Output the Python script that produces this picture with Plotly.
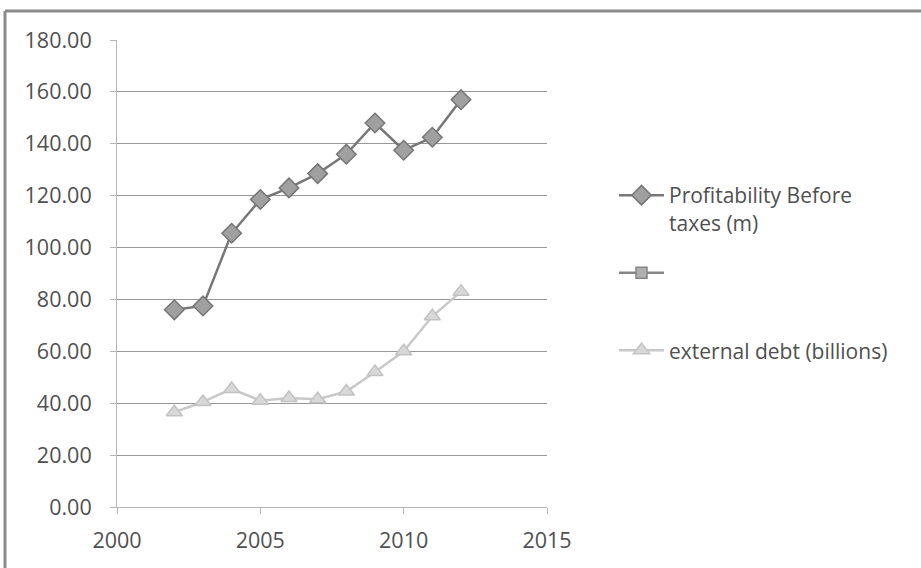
import plotly.graph_objects as go

years = [2002, 2003, 2004, 2005, 2006, 2007, 2008, 2009, 2010, 2011, 2012]
profit = [76.0, 77.5, 105.5, 118.5, 123.0, 128.5, 136.0, 148.0, 137.5, 142.5, 157.0]
debt = [36.5, 40.5, 45.5, 41.0, 42.0, 41.5, 44.5, 52.0, 60.0, 73.5, 83.0]
names = ["Profitability Before<br>taxes (m)", " <br> ", "external debt (billions)"]

FONT = "'Open Sans', Lato, sans-serif"

fig = go.Figure()
fig.add_trace(go.Scatter(
    x=years, y=profit, mode="lines+markers", name=names[0], legendgroup="a",
    line=dict(color="#777777", width=2.5),
    marker=dict(symbol="diamond", size=15, color="#a0a0a0", line=dict(color="#767676", width=1.5)),
))
fig.add_trace(go.Scatter(
    x=[None], y=[None], mode="lines+markers", name=names[1], legendgroup="b",
    line=dict(color="#858585", width=2.5),
    marker=dict(symbol="square", size=11, color="#b0b0b0", line=dict(color="#858585", width=1.5)),
))
fig.add_trace(go.Scatter(
    x=years, y=debt, mode="lines+markers", name=names[2], legendgroup="c",
    line=dict(color="#c8c8c8", width=2.5),
    marker=dict(symbol="triangle-up", size=14, color="#d8d8d8", line=dict(color="#c2c2c2", width=1.5)),
))

L, R, T, B = 117, 374, 40, 61
W, H = 921, 568
pw, ph = W - L - R, H - T - B
def px(x):
    return (x - L) / pw
def py(y):
    return 1 - (y - T) / ph

fig.update_layout(
    width=W, height=H,
    margin=dict(l=L, r=R, t=T, b=B, pad=0),
    paper_bgcolor="white", plot_bgcolor="white",
    font=dict(family=FONT, size=21, color="#505050"),
    showlegend=True,
    legend=dict(
        x=px(614), y=py(175), xanchor="left", yanchor="top",
        font=dict(family=FONT, size=21, color="#505050"),
        tracegroupgap=20, valign="top", itemwidth=45,
        bgcolor="rgba(0,0,0,0)",
    ),
    xaxis=dict(
        range=[2000, 2015], dtick=5, tick0=2000,
        showgrid=False, showline=True, linecolor="#b5b5b5", linewidth=1,
        ticks="outside", ticklen=6, tickcolor="#b5b5b5",
        tickfont=dict(family=FONT, size=21.5, color="#505050"),
        ticklabelstandoff=8, zeroline=False,
    ),
    yaxis=dict(
        range=[0, 180], dtick=20, tick0=0, tickformat=".2f",
        showgrid=True, gridcolor="#979797", gridwidth=1,
        showline=True, linecolor="#b5b5b5", linewidth=1,
        ticks="outside", ticklen=6, tickcolor="#b5b5b5",
        tickfont=dict(family=FONT, size=21.5, color="#505050"),
        ticklabelstandoff=14, zeroline=False,
    ),
    shapes=[
        dict(type="line", xref="paper", yref="paper", x0=px(5), x1=px(921), y0=py(11), y1=py(11),
             line=dict(color="#8a8a8a", width=3)),
        dict(type="line", xref="paper", yref="paper", x0=px(5), x1=px(5), y0=py(11), y1=py(568),
             line=dict(color="#8a8a8a", width=3)),
    ],
)

fig.write_html("out.html", config={"displayModeBar": False},
               post_script="document.body.style.margin='0';")
